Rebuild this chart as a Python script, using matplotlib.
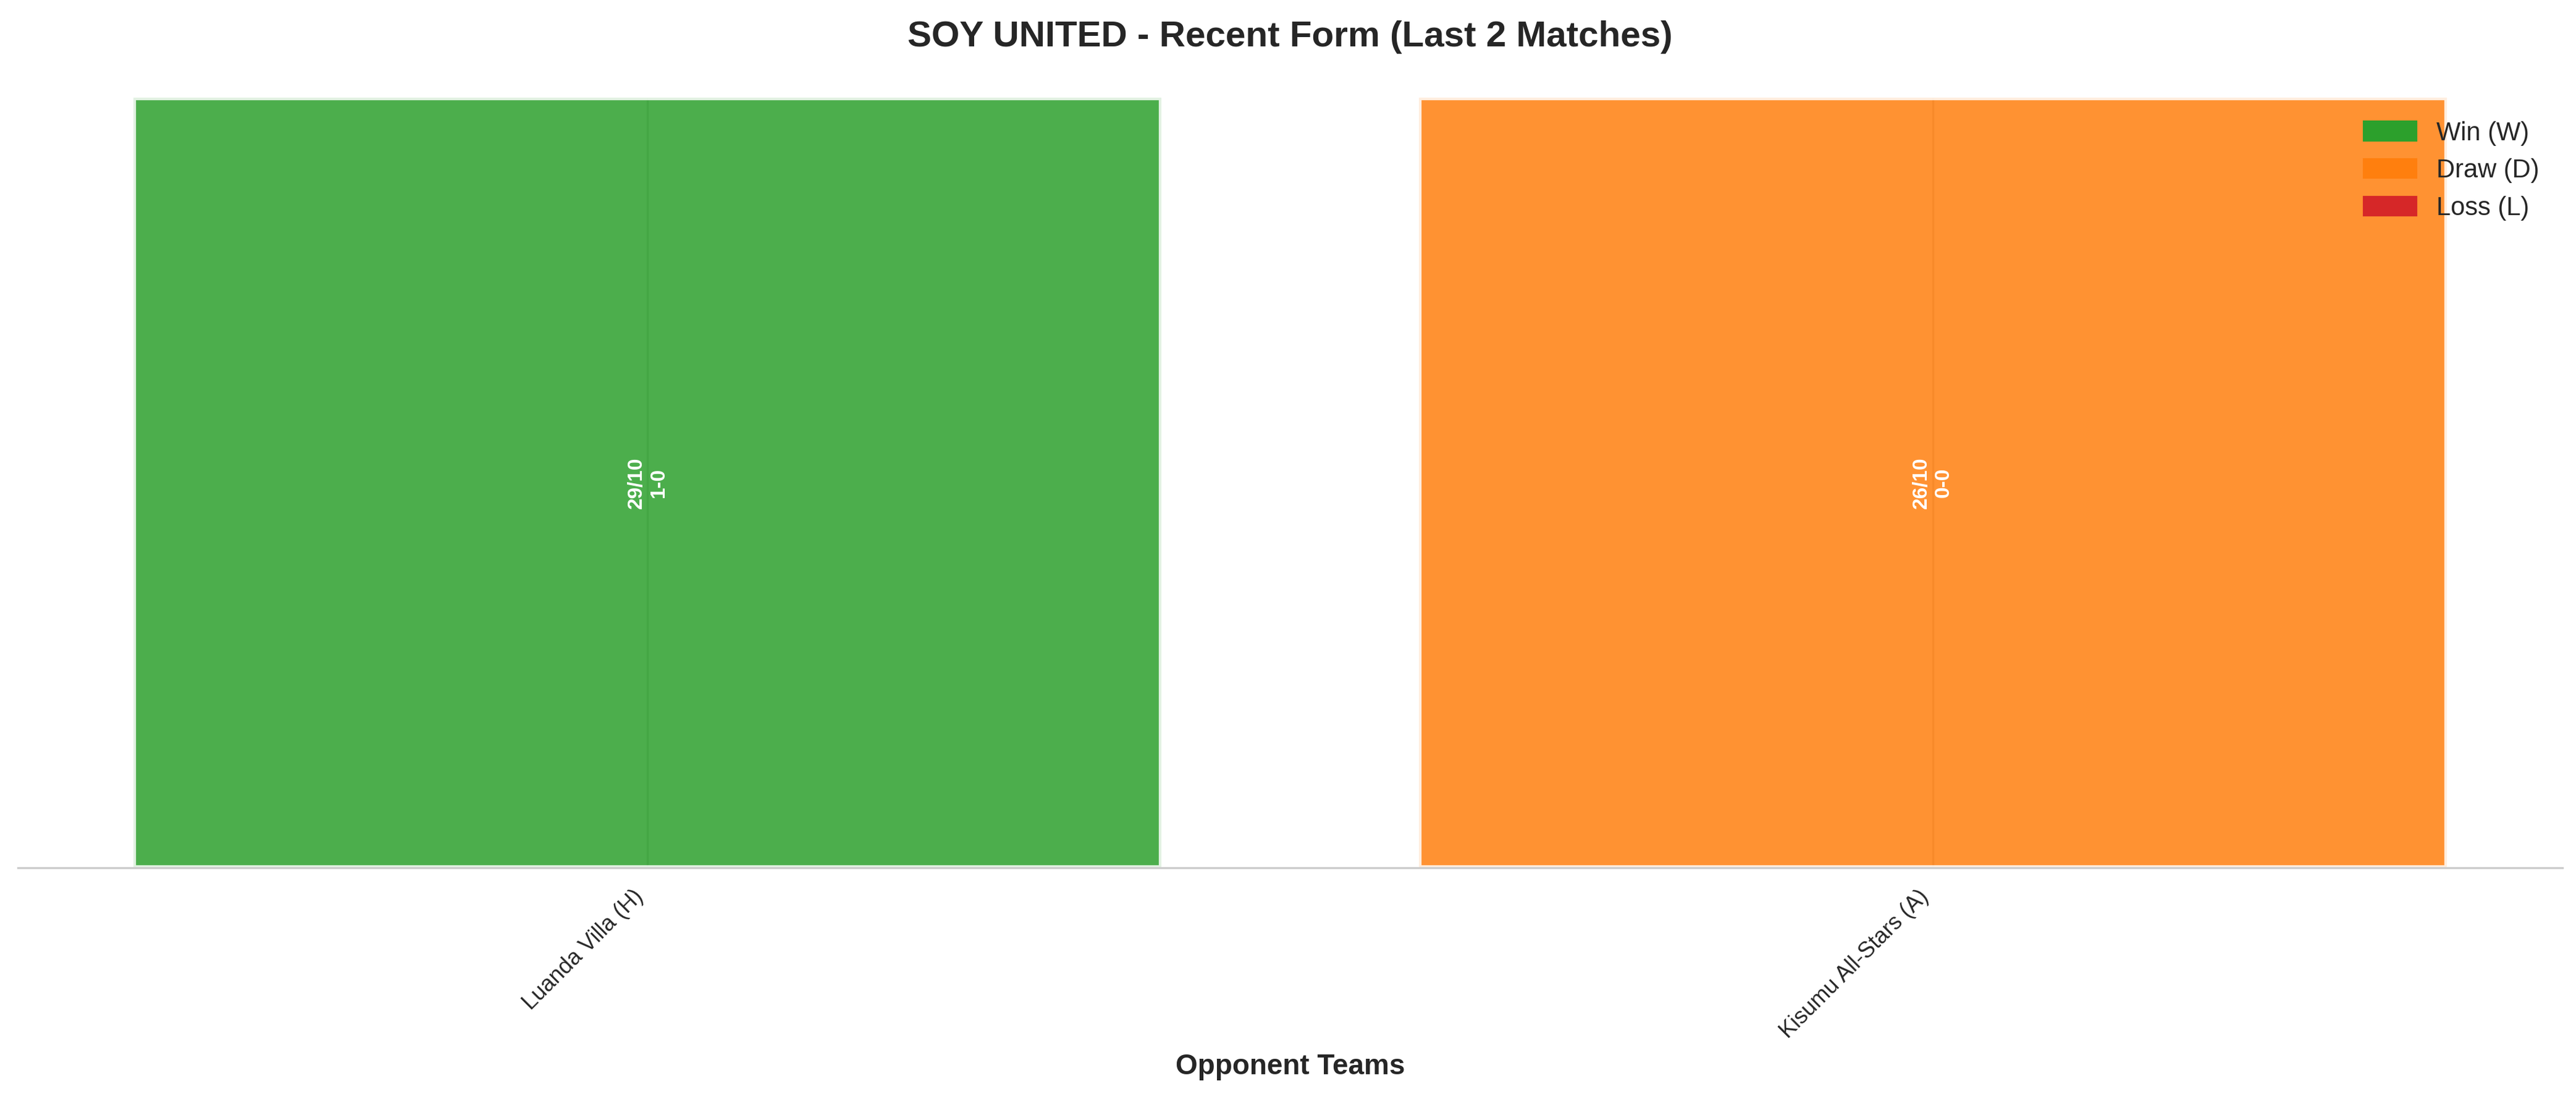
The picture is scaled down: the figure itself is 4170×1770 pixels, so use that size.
import numpy as np
import matplotlib
matplotlib.use('Agg')
import matplotlib.pyplot as plt
from matplotlib.patches import Patch
import seaborn as sns

# du lieu tran dau
opponents = ['Luanda Villa (H)', 'Kisumu All-Stars (A)']
results = ['W', 'D']
dates = ['29/10', '26/10']
scores = ['1-0', '0-0']
heights = [1, 1]

result_colors = {'W': '#2ca02c', 'D': '#ff7f0e', 'L': '#d62728'}
legend_labels = ['Win (W)', 'Draw (D)', 'Loss (L)']

sns.set_style('whitegrid')
plt.rcParams['font.family'] = ['Liberation Sans', 'DejaVu Sans']

fig, ax = plt.subplots(figsize=(13.9, 5.9), dpi=300)
fig.subplots_adjust(left=29/4170, right=4148/4170, bottom=366/1770, top=(1770-158)/1770)

x = np.arange(len(opponents))
colors = [result_colors[r] for r in results]
bars = ax.bar(x, heights, color=colors, alpha=0.85, edgecolor='white', linewidth=2)
ax.set_ylim(0, 1)

# ghi ngay + ti so trong cot
for i, b in enumerate(bars):
    ax.text(b.get_x() + b.get_width() / 2, b.get_height() / 2,
            f'{dates[i]}\n{scores[i]}', ha='center', va='center',
            rotation=90, color='white', fontweight='bold', fontsize=8)

ax.set_xticks(x)
ax.set_xticklabels(opponents, rotation=45, ha='right', fontsize=8.7)
ax.set_yticks([])
ax.set_xlabel('Opponent Teams', fontsize=11, fontweight='bold')
ax.set_title('SOY UNITED - Recent Form (Last 2 Matches)', fontsize=14, fontweight='bold', pad=20)

for s in ['top', 'right', 'left']:
    ax.spines[s].set_visible(False)

handles = [Patch(color=result_colors[k]) for k in ['W', 'D', 'L']]
ax.legend(handles, legend_labels, loc='upper right', frameon=False, fontsize=10)

fig.savefig('out.png', dpi=300)
